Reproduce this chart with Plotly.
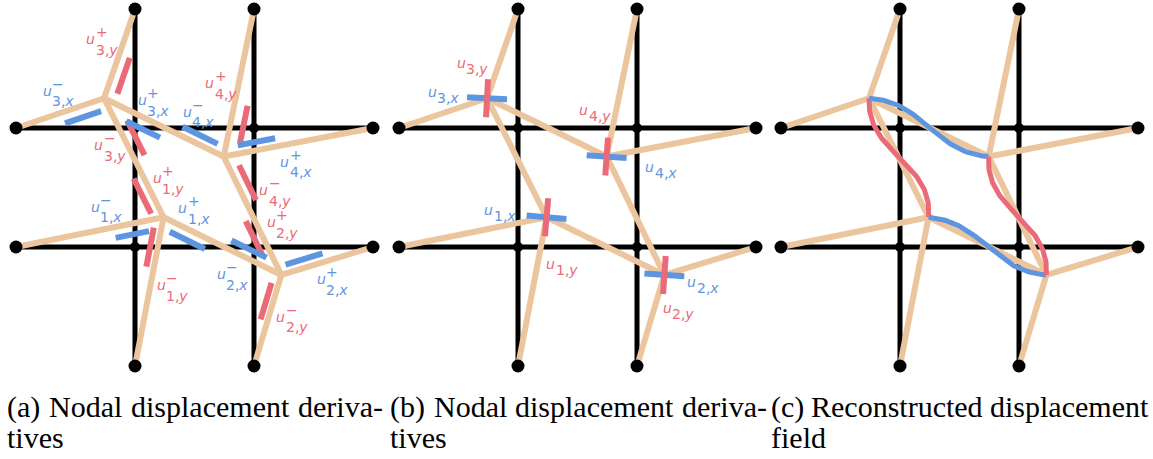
import numpy as np
import plotly.graph_objects as go

# ---------------- data (grid units, y measured downward) ----------------
grid_pos = [0, 1, 2, 3]
boundary_names = ["T1", "T2", "L1", "L2", "R1", "R2", "B1", "B2"]
boundary_x = [1, 2, 0, 0, 3, 3, 1, 2]
boundary_y = [0, 0, 1, 2, 1, 2, 3, 3]
node_names = ["1", "2", "3", "4"]
node_x = [1.24, 2.23, 0.74, 1.745]          # displaced interior nodes
node_y = [1.75, 2.235, 0.75, 1.24]
node_rot_deg = [5.0, 4.0, 3.0, 4.0]          # rotation of nodal derivative frame
edge_from = ["3", "3", "3", "3", "4", "4", "4", "1", "1", "1", "2", "2"]
edge_to = ["T1", "L1", "4", "1", "T2", "R1", "2", "L2", "B1", "2", "R2", "B2"]

# panel (a): one-sided derivatives  u^{sign}_{node,comp} along edge node->toward
deriv_node = ["3", "3", "3", "3", "4", "4", "4", "4", "1", "1", "1", "1", "2", "2", "2", "2"]
deriv_toward = ["T1", "L1", "4", "1", "3", "T2", "R1", "2", "3", "L2", "B1", "2", "1", "4", "R2", "B2"]
deriv_comp = ["y", "x", "x", "y", "x", "y", "x", "y", "y", "x", "y", "x", "x", "y", "x", "y"]
deriv_sign = ["+", "−", "+", "−", "−", "+", "+", "−", "+", "−", "−", "+", "−", "+", "+", "−"]

# panel (b): nodal derivatives
nd_node = ["3", "3", "4", "4", "1", "1", "2", "2"]
nd_comp = ["y", "x", "y", "x", "x", "y", "x", "y"]

# panel (c): reconstructed field curves (drawing order)
curve_from = ["3", "3", "1", "4"]
curve_to = ["1", "4", "2", "2"]
curve_comp = ["y", "x", "x", "y"]

captions = [["(a)", "Nodal", "displacement", "deriva-"], ["tives"],
            ["(b)", "Nodal", "displacement", "deriva-"], ["tives"],
            ["(c)", "Reconstructed", "displacement"], ["field"]]

# ---------------- layout / style ----------------
S = 119.0              # px per grid unit
W, H = 1153, 459
ORIGINS = [(16, 9), (399, 9), (781, 9)]      # px of grid (0,0) in each panel
DOMAINS = [(0, 383), (383, 766), (766, W)]   # px
BLACK = "#000000"
BEIGE = "#EBC59E"
RED = "#EB6A77"
BLUE = "#5E95E0"
COMP_COLOR = {"x": BLUE, "y": RED}
LABEL_FONT = "DejaVu Sans"
LFS = 14

# bar placement along edges (px): start, end, perpendicular offset
bar_d0 = [8.5, 7, 30, 30, 11, 16.5, 16, 14.6, 8.7, 17, 12, 12, 21, 25, 7, 10.5]
bar_d1 = [46.6, 45, 67.5, 69, 50, 54.6, 54, 53.3, 48, 51, 51.7, 51, 60, 64, 45.6, 48.6]
bar_off = [11.1, -11.3, 10.9, -10.7, 8.8, 13.2, -8.3, -10, -9.5, -10.7, 7.6, 10.3, 9, -8.4, -8.6, 7.1]
# label anchors (left of 'u', baseline of 'u') in px relative to panel origin
lab_a = [(70, 35), (26.7, 86.7), (121.7, 96), (78, 141), (166.7, 107.7), (189, 79.3),
         (264, 157.7), (243.3, 186), (136.7, 174.3), (74.7, 202.7), (140.7, 281),
         (162.3, 204.3), (200.7, 270.3), (250.7, 218), (300.7, 275), (260, 312.7)]
lab_b = [(57.7, 59.3), (28.7, 88.3), (180.3, 106), (246, 162.7), (85.3, 206),
         (147, 260.3), (288.3, 278.3), (263.7, 303.7)]

P = {n: np.array([x, y], float) for n, x, y in zip(boundary_names, boundary_x, boundary_y)}
P.update({n: np.array([x, y], float) for n, x, y in zip(node_names, node_x, node_y)})
ROT = {n: np.deg2rad(r) for n, r in zip(node_names, node_rot_deg)}

fig = go.Figure()
annos = []


def add_lines(segs, color, width, xa):
    xs, ys = [], []
    for seg in segs:
        for p in seg:
            xs.append(p[0]); ys.append(p[1])
        xs.append(None); ys.append(None)
    fig.add_trace(go.Scatter(x=xs, y=ys, mode="lines", line=dict(color=color, width=width),
                             xaxis=xa, yaxis="y", hoverinfo="skip", showlegend=False,
                             cliponaxis=False))


def add_text(xa, xpx, ymid_px, text, color, size, family):
    annos.append(dict(xref=xa, yref="y", x=xpx / S, y=ymid_px / S, text=text, showarrow=False,
                      xanchor="left", yanchor="middle", borderpad=0, borderwidth=0,
                      font=dict(color=color, size=size, family=family)))


def add_label(xa, pos, node, comp, sign):
    x0, b = pos
    col = COMP_COLOR[comp]
    add_text(xa, x0, b - 0.35 * LFS, "<i>u</i>", col, LFS, LABEL_FONT)
    dsub = 10.5 if sign else 5.7
    add_text(xa, x0 + 9.5, b + dsub - 0.35 * LFS, f"{node},<i>{comp}</i>", col, LFS, LABEL_FONT)
    if sign:
        add_text(xa, x0 + 9.5, b - 12, sign, col, LFS, LABEL_FONT)


def draw_base(xa):
    segs = []
    for g in [1, 2]:
        segs.append([(g, 0), (g, 3)])
        segs.append([(0, g), (3, g)])
    add_lines(segs, BLACK, 5, xa)
    add_lines([[P[a], P[b]] for a, b in zip(edge_from, edge_to)], BEIGE, 6, xa)
    fig.add_trace(go.Scatter(x=boundary_x, y=boundary_y, mode="markers",
                             marker=dict(color=BLACK, size=13), xaxis=xa, yaxis="y",
                             hoverinfo="skip", showlegend=False, cliponaxis=False))
    fig.add_trace(go.Scatter(x=[1, 2, 1, 2], y=[1, 1, 2, 2], mode="markers",
                             marker=dict(color=BLACK, size=10), xaxis=xa, yaxis="y",
                             hoverinfo="skip", showlegend=False, cliponaxis=False))


# ---------- panel (a) ----------
draw_base("x")
bars = {"x": [], "y": []}
for i, (n, t, c) in enumerate(zip(deriv_node, deriv_toward, deriv_comp)):
    d = P[t] - P[n]
    u = d / np.linalg.norm(d)
    perp = np.array([-u[1], u[0]])
    p0 = P[n] + (u * bar_d0[i] + perp * bar_off[i]) / S
    p1 = P[n] + (u * bar_d1[i] + perp * bar_off[i]) / S
    bars[c].append([p0, p1])
add_lines(bars["y"], RED, 6, "x")
add_lines(bars["x"], BLUE, 6, "x")
for pos, n, c, s in zip(lab_a, deriv_node, deriv_comp, deriv_sign):
    add_label("x", pos, n, c, s)

# ---------- panel (b) ----------
draw_base("x2")
bx, by = [], []
for n in node_names:
    th = ROT[n]
    hx = np.array([np.cos(th), np.sin(th)])
    hy = np.array([-np.sin(th), np.cos(th)])
    bx.append([P[n] - hx * 20 / S, P[n] + hx * 20 / S])
    by.append([P[n] - hy * 19 / S, P[n] + hy * 19 / S])
add_lines(bx, BLUE, 6, "x2")
add_lines(by, RED, 6, "x2")
for pos, n, c in zip(lab_b, nd_node, nd_comp):
    add_label("x2", pos, n, c, "")

# ---------- panel (c) ----------
draw_base("x3")
tt = np.linspace(0, 1, 80)
for a, b, c in zip(curve_from, curve_to, curve_comp):
    pa, pb = P[a], P[b]
    L = 0.42 * np.linalg.norm(pb - pa)
    if c == "x":
        ta = np.array([np.cos(ROT[a]), np.sin(ROT[a])])
        tb = np.array([np.cos(ROT[b]), np.sin(ROT[b])])
    else:
        ta = np.array([-np.sin(ROT[a]), np.cos(ROT[a])])
        tb = np.array([-np.sin(ROT[b]), np.cos(ROT[b])])
    c0, c1, c2, c3 = pa, pa + ta * L, pb - tb * L, pb
    pts = ((1 - tt) ** 3)[:, None] * c0 + (3 * (1 - tt) ** 2 * tt)[:, None] * c1 + \
          (3 * (1 - tt) * tt ** 2)[:, None] * c2 + (tt ** 3)[:, None] * c3
    add_lines([list(pts)], COMP_COLOR[c], 5, "x3")

# ---------- captions ----------
CFS = 30
cap_pos = [[7, 49.0, 131.0, 298.0], [7], [390, 433.5, 515.3, 682.1], [390],
           [771, 811.2, 989.7], [771]]
cap_base = [417, 448, 417, 448, 417, 448]
for words, xs, bl in zip(captions, cap_pos, cap_base):
    for w, xp in zip(words, xs):
        annos.append(dict(xref="paper", yref="paper", x=xp / W,
                          y=1 - (bl - 0.3375 * CFS) / H,
                          text=w, showarrow=False, xanchor="left", yanchor="middle",
                          borderpad=0, borderwidth=0,
                          font=dict(color=BLACK, size=CFS, family="Liberation Serif")))

ax_common = dict(visible=False, showgrid=False, zeroline=False, fixedrange=True)
layout = dict(width=W, height=H, margin=dict(l=0, r=0, t=0, b=0),
              paper_bgcolor="white", plot_bgcolor="white", showlegend=False,
              annotations=annos, hovermode=False,
              yaxis=dict(domain=[0, 1], range=[(H - 9) / S, -9 / S], **ax_common))
for k, ((d0, d1), (ox, oy)) in enumerate(zip(DOMAINS, ORIGINS)):
    name = "xaxis" if k == 0 else f"xaxis{k + 1}"
    layout[name] = dict(domain=[d0 / W, d1 / W], range=[(d0 - ox) / S, (d1 - ox) / S],
                        anchor="y", **ax_common)
fig.update_layout(**layout)
fig.write_html("out.html", config={"displayModeBar": False},
               post_script="document.body.style.margin='0';")
